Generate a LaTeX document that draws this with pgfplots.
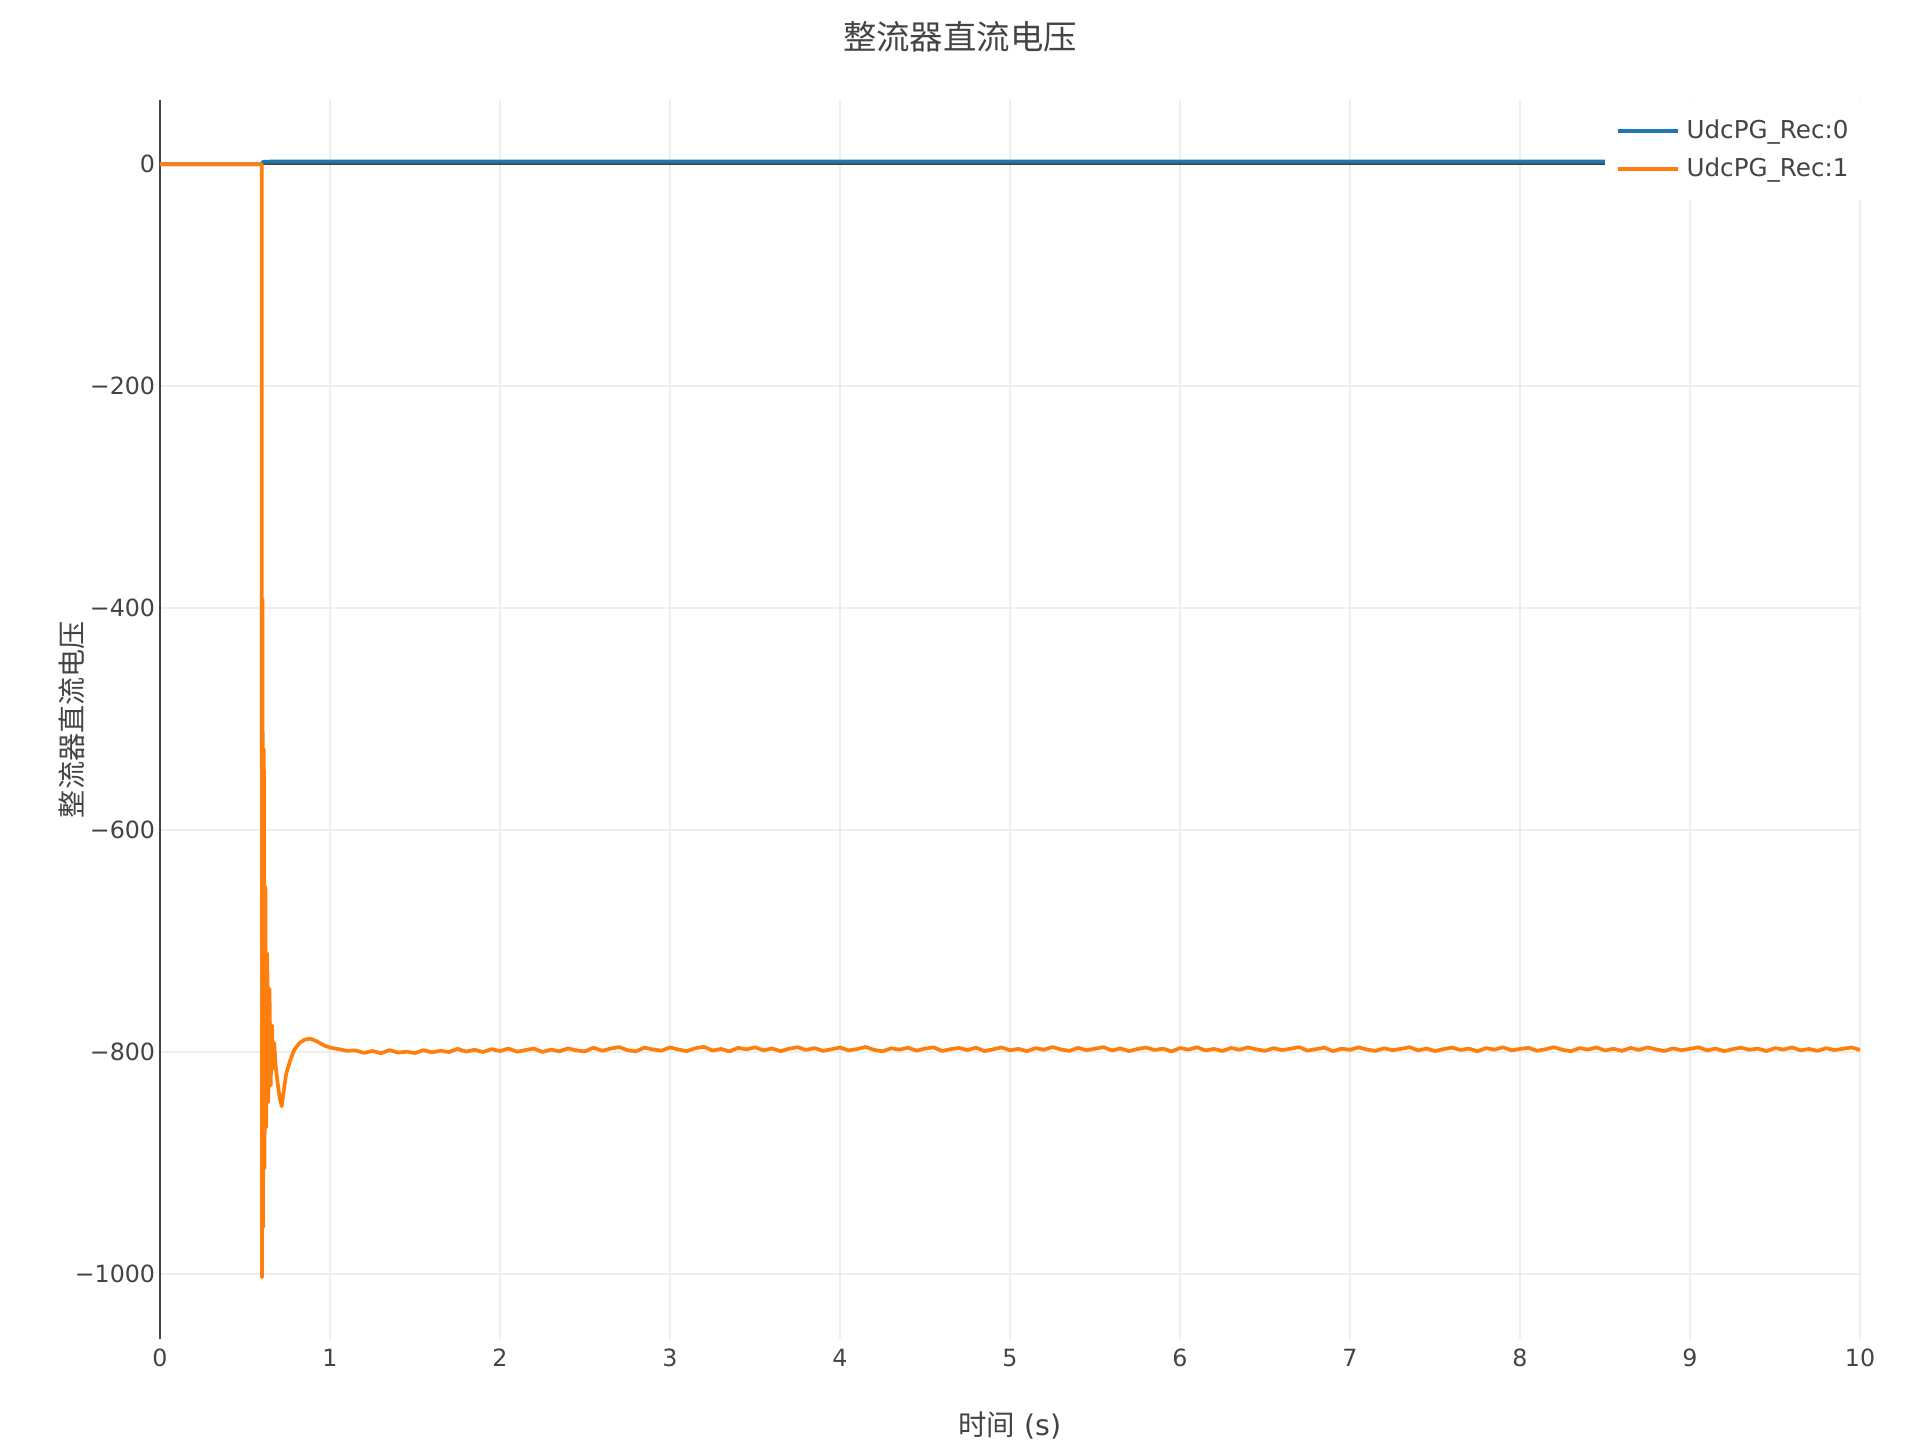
\documentclass[border=0pt]{standalone}
\usepackage{fontspec}
\setmainfont{DejaVu Sans}
\newfontfamily\cjk{Noto Sans CJK SC}
\usepackage{pgfplots}
\usepackage{pgfplotstable}
\pgfplotsset{compat=1.18}

\definecolor{txtgray}{HTML}{444444}
\definecolor{gridgray}{HTML}{EEEEEE}
\definecolor{plblue}{HTML}{1F77B4}
\definecolor{plorange}{HTML}{FF7F0E}

% UdcPG_Rec:0
\pgfplotstableread{
x y
0 0
0.600 0
0.606 2.3
0.650 2.5
10.00 2.5
}\reczero

% UdcPG_Rec:1
\pgfplotstableread{
x y
0 0
0.598 0
0.600 -1003
0.603 -392
0.607 -958
0.611 -527
0.615 -905
0.620 -651
0.625 -868
0.631 -711
0.637 -845
0.644 -743
0.651 -830
0.659 -776
0.666 -815
0.672 -792
0.680 -812
0.692 -828
0.705 -842
0.716 -849
0.728 -835
0.742 -820
0.765 -808
0.790 -798
0.820 -792
0.850 -789
0.880 -788
0.910 -789.5
0.940 -792
0.970 -794.5
1.00 -796
1.05 -797.5
1.10 -799
1.15 -798.6
1.20 -800.9
1.25 -799.1
1.30 -801.2
1.35 -798.3
1.40 -800.6
1.45 -799.8
1.50 -801.0
1.55 -798.4
1.60 -800.3
1.65 -798.9
1.70 -800.1
1.75 -797.2
1.80 -799.7
1.85 -798.0
1.90 -800.1
1.95 -797.4
2.00 -799.2
2.05 -796.9
2.10 -799.8
2.15 -798.3
2.20 -797.0
2.25 -800.0
2.30 -797.9
2.35 -799.4
2.40 -796.8
2.45 -798.6
2.50 -799.5
2.55 -796.2
2.60 -798.9
2.65 -797.0
2.70 -795.6
2.75 -798.4
2.80 -799.4
2.85 -796.1
2.90 -797.8
2.95 -798.8
3.00 -795.9
3.05 -797.9
3.10 -799.2
3.15 -796.6
3.20 -795.4
3.25 -798.7
3.30 -797.3
3.35 -799.5
3.40 -796.3
3.45 -797.7
3.50 -795.8
3.55 -798.5
3.60 -796.9
3.65 -799.3
3.70 -797.1
3.75 -795.7
3.80 -798.2
3.85 -796.5
3.90 -799.0
3.95 -797.6
4.00 -796.0
4.05 -798.6
4.10 -797.4
4.15 -795.5
4.20 -798.1
4.25 -799.4
4.30 -796.7
4.35 -797.9
4.40 -796.2
4.45 -798.8
4.50 -797.0
4.55 -795.8
4.60 -799.1
4.65 -797.5
4.70 -796.4
4.75 -798.3
4.80 -796.1
4.85 -799.2
4.90 -797.7
4.95 -795.9
5.00 -798.5
5.05 -797.2
5.10 -799.3
5.15 -796.6
5.20 -798.0
5.25 -795.6
5.30 -797.8
5.35 -799.0
5.40 -796.3
5.45 -798.4
5.50 -797.1
5.55 -795.7
5.60 -798.7
5.65 -796.8
5.70 -799.2
5.75 -797.4
5.80 -796.0
5.85 -798.2
5.90 -797.0
5.95 -799.5
6.00 -796.5
6.05 -797.9
6.10 -795.8
6.15 -798.6
6.20 -797.3
6.25 -799.1
6.30 -796.4
6.35 -798.0
6.40 -795.9
6.45 -797.7
6.50 -799.0
6.55 -796.6
6.60 -798.3
6.65 -797.1
6.70 -795.6
6.75 -798.8
6.80 -797.5
6.85 -796.2
6.90 -799.3
6.95 -797.0
7.00 -798.1
7.05 -795.9
7.10 -797.8
7.15 -799.0
7.20 -796.7
7.25 -798.4
7.30 -797.2
7.35 -795.7
7.40 -798.6
7.45 -796.9
7.50 -799.2
7.55 -797.4
7.60 -796.1
7.65 -798.2
7.70 -797.0
7.75 -799.4
7.80 -796.5
7.85 -797.9
7.90 -795.8
7.95 -798.5
8.00 -797.3
8.05 -796.3
8.10 -798.9
8.15 -797.6
8.20 -795.7
8.25 -798.1
8.30 -799.3
8.35 -796.6
8.40 -797.8
8.45 -796.0
8.50 -798.7
8.55 -797.1
8.60 -799.0
8.65 -796.4
8.70 -798.2
8.75 -795.9
8.80 -797.7
8.85 -799.1
8.90 -796.8
8.95 -798.4
9.00 -797.2
9.05 -795.8
9.10 -798.6
9.15 -796.9
9.20 -799.3
9.25 -797.5
9.30 -796.2
9.35 -798.0
9.40 -797.0
9.45 -799.2
9.50 -796.5
9.55 -797.9
9.60 -795.9
9.65 -798.5
9.70 -797.3
9.75 -799.0
9.80 -796.6
9.85 -798.3
9.90 -797.1
9.95 -796.0
10.00 -798.2
}\recone

\begin{document}
\begin{tikzpicture}
% whole canvas, 1px = 0.01cm, axis box at (0,0)
\path[use as bounding box] (-1.60,-1.007) rectangle (17.60,13.393);
\begin{axis}[
    scale only axis,
    width=17cm,
    height=12.393cm,
    xmin=0, xmax=10,
    ymin=-1059, ymax=58,
    axis x line*=bottom,
    axis y line*=left,
    x axis line style={draw=none},
    y axis line style={draw=txtgray, line width=0.57pt, -},
    xtick={0,1,...,10},
    ytick={-1000,-800,-600,-400,-200},
    yticklabels={−1000,−800,−600,−400,−200},
    extra y ticks={0},
    extra y tick labels={0},
    extra y tick style={major grid style={draw=txtgray, line width=0.57pt}},
    grid=major,
    major grid style={draw=gridgray, line width=0.57pt},
    major tick length=0pt,
    /pgf/number format/assume math mode=true,
    tick label style={font=\fontsize{6.75pt}{8pt}\selectfont, text=txtgray},
    xticklabel style={yshift=0.03cm},
    yticklabel style={xshift=0.075cm},
    title={\cjk 整流器直流电压},
    every axis title/.style={at={(axis description cs:0.4706,1.0511)}, anchor=center,
        font=\cjk\fontsize{9.5pt}{11pt}\selectfont, text=txtgray},
    xlabel={{\cjk 时间} (s)},
    xlabel style={at={(axis description cs:0.5,-0.0692)}, anchor=center,
        font=\fontsize{8.1pt}{10pt}\selectfont, text=txtgray},
    ylabel={\cjk 整流器直流电压},
    ylabel style={at={(axis description cs:-0.0516,0.5)}, anchor=center,
        font=\cjk\fontsize{8.0pt}{10pt}\selectfont, text=txtgray},
    legend style={at={(axis description cs:1.004,1)}, anchor=north east,
        draw=none, fill=white, text=txtgray, inner ysep=3.3pt,
        font=\fontsize{7.0pt}{8.5pt}\selectfont},
    legend cell align=left,
]
\addplot[plblue, line width=1.05pt, line join=round] table {\reczero};
\addplot[plorange, line width=1.05pt, line join=round] table {\recone};
\legend{UdcPG\_Rec:0, UdcPG\_Rec:1}
\end{axis}
\end{tikzpicture}
\end{document}
